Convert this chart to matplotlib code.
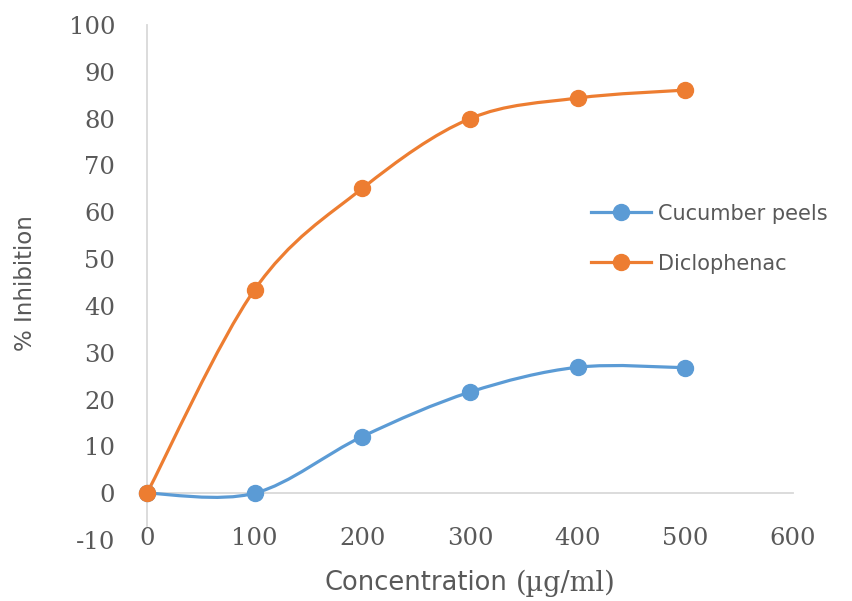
import numpy as np
import matplotlib
matplotlib.use("Agg")
import matplotlib.pyplot as plt
from matplotlib.path import Path
from matplotlib.patches import PathPatch
from matplotlib.lines import Line2D

plt.rcParams["axes.unicode_minus"] = False

# data
concentration = [0, 100, 200, 300, 400, 500]
cucumber_peels = [0, 0, 12.1, 21.6, 26.9, 26.8]
diclophenac = [0, 43.5, 65.1, 80.0, 84.4, 86.1]

series_names = ["Cucumber peels", "Diclophenac"]
series_colors = ["#5B9BD5", "#ED7D31"]

x_ticks = [0, 100, 200, 300, 400, 500, 600]
y_ticks = [-10, 0, 10, 20, 30, 40, 50, 60, 70, 80, 90, 100]

AXIS_GRAY = "#D9D9D9"
TEXT_GRAY = "#595959"


def smooth_path(xs, ys):
    # Excel-like smoothed line: cubic bezier, catmull-rom style control points
    pts = np.column_stack([xs, ys]).astype(float)
    n = len(pts)
    verts = [pts[0]]
    codes = [Path.MOVETO]
    for i in range(n - 1):
        p_prev = pts[i - 1] if i > 0 else pts[i]
        p_next2 = pts[i + 2] if i + 2 < n else pts[i + 1]
        c1 = pts[i] + (pts[i + 1] - p_prev) / 6.0
        c2 = pts[i + 1] - (p_next2 - pts[i]) / 6.0
        verts += [c1, c2, pts[i + 1]]
        codes += [Path.CURVE4] * 3
    return Path(verts, codes)


fig = plt.figure(figsize=(8.53, 6.01), dpi=100)
ax = fig.add_axes([147 / 853, 1 - 540 / 601, (793 - 147) / 853, (540 - 25) / 601])

ax.set_xlim(0, 600)
ax.set_ylim(-10, 100)

for name, ys, color in zip(series_names, [cucumber_peels, diclophenac], series_colors):
    patch = PathPatch(smooth_path(concentration, ys), facecolor="none",
                      edgecolor=color, lw=2.3, capstyle="round", zorder=3)
    ax.add_patch(patch)
    ax.plot(concentration, ys, linestyle="none", marker="o", markersize=11.5,
            color=color, zorder=4, clip_on=False)

# axes lines: vertical at x=0, horizontal at y=0
for side in ["top", "right"]:
    ax.spines[side].set_visible(False)
ax.spines["bottom"].set_position(("data", 0))
ax.spines["bottom"].set_color(AXIS_GRAY)
ax.spines["bottom"].set_linewidth(1.3)
ax.spines["left"].set_color(AXIS_GRAY)
ax.spines["left"].set_linewidth(1.3)
ax.spines["left"].set_bounds(-7, 100)
ax.spines["bottom"].set_zorder(1)

ax.set_xticks(x_ticks)
ax.set_yticks(y_ticks)
ax.tick_params(axis="both", length=0, labelsize=17.5, labelcolor=TEXT_GRAY)
ax.tick_params(axis="x", pad=24)
ax.tick_params(axis="y", pad=23)
for lbl in ax.get_xticklabels() + ax.get_yticklabels():
    lbl.set_fontfamily("DejaVu Serif")

fig.text(26 / 853, 1 - 283 / 601, "% Inhibition", rotation=90, ha="center",
         va="center", fontsize=16.5, color=TEXT_GRAY, family="DejaVu Sans")

# x label: sans word followed by serif unit, centred as a whole
label_y = 1 - 583 / 601
t1 = fig.text(0, label_y, "Concentration", ha="left", va="center",
              fontsize=18.5, color=TEXT_GRAY, family="DejaVu Sans")
t2 = fig.text(0, label_y, "(µg/ml)", ha="left", va="center",
              fontsize=19.5, color=TEXT_GRAY, family="DejaVu Serif")
fig.canvas.draw()
r = fig.canvas.get_renderer()
w1 = t1.get_window_extent(r).width
w2 = t2.get_window_extent(r).width
gap = 8
start = 470 - (w1 + gap + w2) / 2
t1.set_x(start / 853)
t2.set_x((start + w1 + gap) / 853)

handles = [Line2D([], [], color=c, lw=2.3, marker="o", markersize=11.5)
           for c in series_colors]
leg = fig.legend(handles, series_names, loc="upper left",
                 bbox_to_anchor=(572 / 853, 1 - 185 / 601), frameon=False,
                 handlelength=2.9, handletextpad=0.35, labelspacing=1.43,
                 prop={"family": "DejaVu Sans", "size": 15})
for t in leg.get_texts():
    t.set_color(TEXT_GRAY)

fig.savefig("out.png", dpi=100)
